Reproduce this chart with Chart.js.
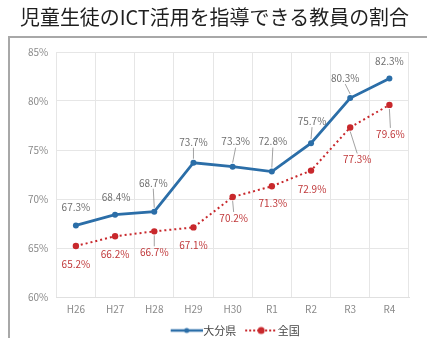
<!DOCTYPE html>
<html>
<head>
<meta charset="utf-8">
<script src="https://cdn.jsdelivr.net/npm/chart.js@4"></script>
<style>
html,body{margin:0;padding:0;background:#fff;}
#wrap{position:absolute;left:0;top:0;width:427px;height:338px;}
</style>
</head>
<body>
<div id="wrap"><canvas id="c" width="427" height="338"></canvas></div>
<script>
const titleText = '児童生徒のICT活用を指導できる教員の割合';
const categories = ['H26','H27','H28','H29','H30','R1','R2','R3','R4'];
const oitaValues = [67.3, 68.4, 68.7, 73.7, 73.3, 72.8, 75.7, 80.3, 82.3];
const nationalValues = [65.2, 66.2, 66.7, 67.1, 70.2, 71.3, 72.9, 77.3, 79.6];
const seriesNames = ['大分県', '全国'];
const yTicks = [60, 65, 70, 75, 80, 85];

// label offsets (pixels from point) – styling only
const oitaOffsets = [[0,-18],[1,-17],[-1,-29],[0,-21],[3,-25],[1,-30],[1,-22],[-5,-20],[0,-17]];
const natOffsets = [[0,18],[0,18],[0,21],[0,18],[1,21],[1,17],[1,19],[7,32],[1,29]];

const FONT = "'Noto Sans CJK JP','Noto Sans',sans-serif";
const BLUE = '#2b6ea8';
const RED = '#c8282c';

function legendImg(color, dashed, r) {
  const c = document.createElement('canvas');
  c.width = 42; c.height = 10;
  const x = c.getContext('2d');
  x.strokeStyle = color; x.lineWidth = dashed ? 2 : 2.5;
  if (dashed) x.setLineDash([2,2]);
  x.beginPath(); x.moveTo(10,5); x.lineTo(42,5); x.stroke();
  x.setLineDash([]);
  x.fillStyle = color;
  x.beginPath(); x.arc(26,5, r, 0, Math.PI*2); x.fill();
  return c;
}
const legendImages = [legendImg(BLUE, false, 2.5), legendImg(RED, true, 3.5)];

const framePlugin = {
  id: 'frame',
  beforeDraw(chart) {
    const ctx = chart.ctx;
    ctx.save();
    ctx.fillStyle = '#fff';
    ctx.fillRect(0,0,chart.width,chart.height);
    ctx.strokeStyle = '#a8a8a8';
    ctx.lineWidth = 2;
    ctx.beginPath();
    ctx.moveTo(9, 345); ctx.lineTo(9, 37); ctx.lineTo(440, 37);
    ctx.stroke();
    ctx.restore();
  }
};

const labelPlugin = {
  id: 'ptLabels',
  afterDatasetsDraw(chart) {
    const ctx = chart.ctx;
    const sets = [
      {idx:0, vals: oitaValues, off: oitaOffsets, color:'#6f6f6f'},
      {idx:1, vals: nationalValues, off: natOffsets, color:'#c0393b'}
    ];
    ctx.save();
    ctx.font = "10px " + FONT;
    ctx.textAlign = 'center';
    ctx.textBaseline = 'middle';
    sets.forEach(s => {
      const meta = chart.getDatasetMeta(s.idx);
      meta.data.forEach((pt, i) => {
        const [dx, dy] = s.off[i];
        const lx = pt.x + dx, ly = pt.y + dy;
        if (Math.abs(dy) > 19) {
          ctx.strokeStyle = '#8a8a8a';
          ctx.lineWidth = 0.8;
          ctx.beginPath();
          const sgn = dy < 0 ? -1 : 1;
          ctx.moveTo(pt.x, pt.y + sgn*4);
          ctx.lineTo(lx, ly - sgn*6);
          ctx.stroke();
        }
        ctx.fillStyle = s.color;
        ctx.fillText(s.vals[i].toFixed(1) + '%', lx, ly);
      });
    });
    ctx.restore();
  }
};

new Chart(document.getElementById('c'), {
  type: 'line',
  data: {
    labels: categories,
    datasets: [
      {
        label: seriesNames[0], data: oitaValues,
        borderColor: BLUE, backgroundColor: BLUE, borderWidth: 2.8,
        pointRadius: 3, pointBackgroundColor: BLUE, pointBorderWidth: 0,
        pointStyle: 'circle', tension: 0
      },
      {
        label: seriesNames[1], data: nationalValues,
        borderColor: RED, backgroundColor: RED, borderWidth: 2, borderDash: [2,3],
        pointRadius: 3.2, pointBackgroundColor: RED, pointBorderWidth: 0,
        pointStyle: 'circle', tension: 0
      }
    ]
  },
  options: {
    responsive: false,
    animation: false,
    devicePixelRatio: 1,
    layout: { padding: { left: 20, right: 18, top: 0, bottom: -8 } },
    plugins: {
      title: {
        display: true, text: titleText, color: '#1e1e1e',
        font: { family: FONT, size: 20, weight: 'normal' },
        padding: { top: 5, bottom: 23 }
      },
      legend: {
        position: 'bottom',
        fullSize: false,
        labels: {
          usePointStyle: true, pointStyleWidth: 32,
          color: '#444', font: { family: FONT, size: 11 }, padding: 4,
          generateLabels(chart) {
            const items = Chart.defaults.plugins.legend.labels.generateLabels(chart);
            items.forEach((it, i) => { it.pointStyle = legendImages[i]; });
            return items;
          }
        }
      },
      tooltip: { enabled: false }
    },
    scales: {
      x: {
        offset: true,
        grid: { color: '#e6e6e6', offset: true, drawTicks: false },
        border: { color: '#e0e0e0' },
        ticks: { color: '#8a8a8a', font: { family: FONT, size: 10 }, padding: 6 }
      },
      y: {
        min: 60, max: 85,
        afterBuildTicks(axis) { axis.ticks = yTicks.map(v => ({ value: v })); },
        grid: { color: '#e6e6e6', drawTicks: false },
        border: { display: false },
        ticks: { color: '#8a8a8a', font: { family: FONT, size: 10 }, padding: 8,
          callback: v => v + '%' }
      }
    }
  },
  plugins: [framePlugin, labelPlugin]
});
</script>
</body>
</html>
